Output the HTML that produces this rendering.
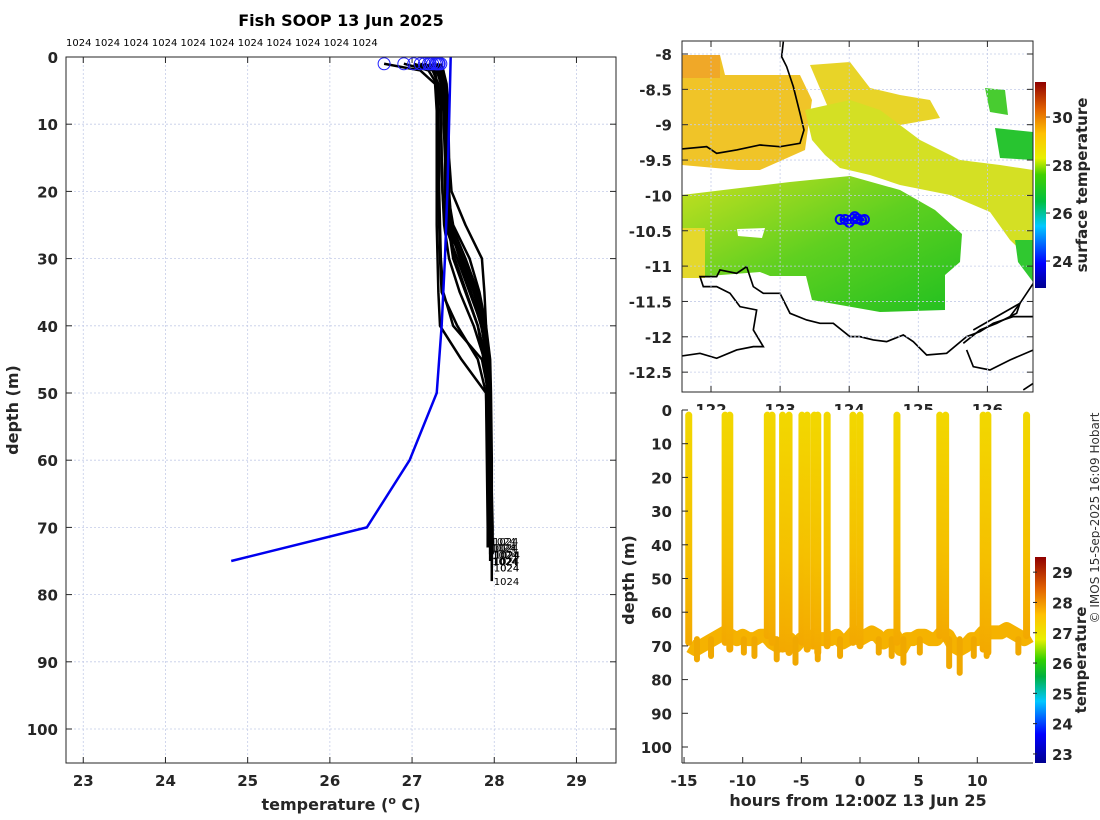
<!DOCTYPE html>
<html><head><meta charset="utf-8"><style>
html,body{margin:0;padding:0;background:#fff}
svg{display:block;font-family:"DejaVu Sans","Liberation Sans",sans-serif}
.tk{font-weight:bold;font-size:15px;fill:#262626}
</style></head><body>
<svg id="fig" width="1100" height="820" viewBox="0 0 1100 820">
<defs>
<linearGradient id="jet" x1="0" y1="1" x2="0" y2="0">
<stop offset="0" stop-color="#00008f"/><stop offset="0.12" stop-color="#0000ff"/><stop offset="0.3" stop-color="#00c8ff"/>
<stop offset="0.42" stop-color="#00c040"/><stop offset="0.55" stop-color="#40d000"/><stop offset="0.63" stop-color="#e8f000"/>
<stop offset="0.75" stop-color="#ffc000"/><stop offset="0.87" stop-color="#e06000"/><stop offset="1" stop-color="#8f0000"/>
</linearGradient>
<linearGradient id="jet2" x1="0" y1="1" x2="0" y2="0">
<stop offset="0" stop-color="#00008f"/><stop offset="0.14" stop-color="#0000ff"/><stop offset="0.3" stop-color="#00c8ff"/>
<stop offset="0.42" stop-color="#00b040"/><stop offset="0.5" stop-color="#30d000"/><stop offset="0.6" stop-color="#e8f000"/>
<stop offset="0.72" stop-color="#ffc000"/><stop offset="0.85" stop-color="#e06000"/><stop offset="1" stop-color="#8f0000"/>
</linearGradient>
<linearGradient id="prof" x1="0" y1="0" x2="0" y2="1">
<stop offset="0" stop-color="#f2d800"/><stop offset="0.6" stop-color="#f5c000"/><stop offset="1" stop-color="#f3a800"/>
</linearGradient>
<linearGradient id="mainfill" x1="0" y1="0" x2="1" y2="1">
<stop offset="0" stop-color="#c8e020"/><stop offset="0.5" stop-color="#60d020"/><stop offset="1" stop-color="#20c020"/>
</linearGradient>
<clipPath id="mapclip"><rect x="682" y="41" width="351" height="351"/></clipPath>
<clipPath id="lclip"><rect x="66" y="57" width="550" height="706"/></clipPath>
</defs>

<text x="341" y="26" text-anchor="middle" font-weight="bold" font-size="16">Fish SOOP 13 Jun 2025</text>
<text x="66" y="46" font-size="10">1024 1024 1024 1024 1024 1024 1024 1024 1024 1024 1024</text>

<g id="left"></g>
<g id="map"></g>
<g id="ts"></g>

<text transform="translate(1099,518) rotate(-90)" text-anchor="middle" font-size="12" fill="#333">© IMOS 15-Sep-2025 16:09 Hobart</text>
</svg>
<script>
// ---------- data: left profile plot ----------
const profileDepths = [1,2,4,8,15,20,25,30,35,40,45,50,60,70];
const prof1 = [26.66,27.10,27.28,27.30,27.30,27.30,27.30,27.31,27.32,27.34,27.60,27.90,27.92,27.93];
const prof2 = [26.90,27.20,27.30,27.32,27.33,27.33,27.34,27.35,27.38,27.50,27.85,27.93,27.93,27.94];
const prof3 = [27.02,27.25,27.32,27.35,27.36,27.37,27.40,27.55,27.70,27.85,27.90,27.93,27.95,27.95];
const prof4 = [27.10,27.30,27.35,27.38,27.40,27.40,27.42,27.60,27.75,27.86,27.93,27.95,27.96,27.96];
const prof5 = [27.15,27.32,27.36,27.40,27.41,27.42,27.45,27.62,27.78,27.88,27.94,27.95,27.96,27.97];
const prof6 = [27.20,27.33,27.38,27.42,27.42,27.43,27.50,27.70,27.82,27.90,27.95,27.96,27.97,27.97];
const prof7 = [27.25,27.35,27.40,27.42,27.43,27.43,27.45,27.58,27.72,27.84,27.92,27.94,27.95,27.96];
const prof8 = [27.28,27.36,27.40,27.43,27.44,27.45,27.48,27.65,27.80,27.88,27.93,27.94,27.95,27.97];
const prof9 = [27.30,27.38,27.42,27.44,27.45,27.48,27.65,27.85,27.88,27.90,27.92,27.94,27.96,27.97];
const prof10 = [27.32,27.36,27.38,27.40,27.41,27.42,27.44,27.50,27.65,27.80,27.90,27.95,27.96,27.98];
const prof11 = [27.33,27.34,27.35,27.35,27.36,27.37,27.39,27.45,27.58,27.75,27.88,27.93,27.95,27.96];
const prof12 = [27.35,27.38,27.40,27.41,27.42,27.43,27.45,27.52,27.66,27.80,27.87,27.92,27.94,27.95];
const prof13 = [27.22,27.28,27.30,27.31,27.32,27.32,27.33,27.34,27.36,27.55,27.80,27.90,27.91,27.92];
const prof14 = [27.30,27.35,27.38,27.40,27.41,27.43,27.46,27.60,27.76,27.88,27.92,27.95,27.96,27.97];
const profiles = [prof1,prof2,prof3,prof4,prof5,prof6,prof7,prof8,prof9,prof10,prof11,prof12,prof13,prof14];
const profEndDepth = [72,73,74,75,74,76,73,75,78,74,72,75,73,76];
const climDepths = [0,10,20,30,40,45,50,60,70,75];
const climTemps = [27.47,27.45,27.43,27.40,27.36,27.33,27.30,26.97,26.45,24.80];
const leftXTicks = [23,24,25,26,27,28,29];
const leftYTicks = [0,10,20,30,40,50,60,70,80,90,100];

// ---------- data: depth-time plot ----------
const bandHours = [-14.5,-14,-13.5,-13,-12.5,-12,-11.5,-11,-10.5,-10,-9.5,-9,-8.5,-8,-7.5,-7,-6.5,-6,-5.5,-5,-4.5,-4,-3.5,-3,-2.5,-2,-1.5,-1,-0.5,0,0.5,1,1.5,2,2.5,3,3.5,4,4.5,5,5.5,6,6.5,7,7.5,8,8.5,9,9.5,10,10.5,11,11.5,12,12.5,13,13.5,14,14.5];
const bandDepths = [70,71,70,69,68,67,66,67,68,67,68,68,67,67,69,70,69,68,70,68,67,69,68,68,68,67,69,68,66,68,67,66,67,69,67,67,71,68,68,67,67,68,68,66,67,70,71,70,68,68,66,66,66,66,65,66,67,68,67];
const spikeHours = [-13.9,-12.7,-9.9,-9,-7.1,-6.4,-5.5,-3.6,-1.7,1.6,2.7,3.7,5.1,7.6,8.5,9.7,10.8,13.5];
const spikeDepths = [74,73,72,73,74,71,75,74,73,72,73,75,72,76,78,73,73,72];
const castHours = [-14.6,-11.5,-11.1,-7.9,-7.5,-6.6,-6.05,-4.95,-4.5,-3.9,-3.6,-2.8,-0.6,0,3.15,6.8,7.3,10.5,10.9,14.2];
const castBottom = [70,70,72,68,70,72,73,70,72,71,73,71,70,71,70,68,69,72,73,68];
const tsXTicks = [-15,-10,-5,0,5,10];
const tsYTicks = [0,10,20,30,40,50,60,70,80,90,100];

// ---------- data: map ----------
const trackLon = [123.87,123.94,124.0,124.05,124.08,124.12,124.18,124.22];
const trackLat = [-10.34,-10.34,-10.38,-10.33,-10.30,-10.33,-10.35,-10.34];
const mapLatTicks = [-8,-8.5,-9,-9.5,-10,-10.5,-11,-11.5,-12,-12.5];
const mapLonTicks = [122,123,124,125,126];
const sstTicks = [24,26,28,30];
const tempTicks = [23,24,25,26,27,28,29];

const NS='http://www.w3.org/2000/svg';
function mk(parent,tag,attrs,text){const e=document.createElementNS(NS,tag);for(const k in attrs)e.setAttribute(k,attrs[k]);if(text!==undefined)e.textContent=text;parent.appendChild(e);return e;}

// ===== LEFT =====
const L=document.getElementById('left');
const lx=t=>66+(t-22.79)*82.2, ly=d=>57+d*6.72;
mk(L,'rect',{x:66,y:57,width:550,height:706,fill:'#fff'});
leftXTicks.forEach(t=>{const g=mk(L,'line',{x1:lx(t),x2:lx(t),y1:57,y2:763,stroke:'#c4cce8','stroke-width':0.8,'stroke-dasharray':'2,2'});
 
 mk(L,'line',{x1:lx(t),x2:lx(t),y1:763,y2:757,stroke:'#262626'});mk(L,'line',{x1:lx(t),x2:lx(t),y1:57,y2:63,stroke:'#262626'});
 const tx=mk(L,'text',{x:lx(t),y:786,'text-anchor':'middle',class:'tk'},String(t));
 });
leftYTicks.forEach(d=>{mk(L,'line',{x1:66,x2:616,y1:ly(d),y2:ly(d),stroke:'#c4cce8','stroke-width':0.8,'stroke-dasharray':'2,2'});
 mk(L,'line',{x1:66,x2:72,y1:ly(d),y2:ly(d),stroke:'#262626'});mk(L,'line',{x1:610,x2:616,y1:ly(d),y2:ly(d),stroke:'#262626'});
 const tx=mk(L,'text',{x:58,y:ly(d)+6,'text-anchor':'end',class:'tk'},String(d));
 });
const LC=mk(L,'g',{'clip-path':'url(#lclip)'});
profiles.forEach((p,i)=>{let pts=p.map((t,j)=>lx(t)+','+ly(profileDepths[j]));
 pts.push(lx(p[p.length-1])+','+ly(profEndDepth[i]));
 const pl=mk(LC,'polyline',{points:pts.join(' '),fill:'none',stroke:'#000','stroke-width':2.5,'stroke-linejoin':'round'});
 });
const cl=mk(LC,'polyline',{points:climTemps.map((t,j)=>lx(t)+','+ly(climDepths[j])).join(' '),fill:'none',stroke:'#0000ee','stroke-width':2.5});

profiles.forEach((p,i)=>{const c=mk(L,'circle',{cx:lx(p[0]),cy:ly(profileDepths[0]),r:6,fill:'none',stroke:'#2020ff','stroke-width':1});
 
 const t=mk(L,'text',{x:lx(p[p.length-1])+2,y:ly(profEndDepth[i])+4,'font-size':10},'1024');
 });
mk(L,'rect',{x:66,y:57,width:550,height:706,fill:'none',stroke:'#262626','stroke-width':1});
let t1=mk(L,'text',{x:341,y:810,'text-anchor':'middle','font-weight':'bold','font-size':16,fill:'#262626'});
t1.innerHTML='temperature (<tspan baseline-shift="super" font-size="11">o</tspan> C)';

t1=mk(L,'text',{transform:'translate(18,410) rotate(-90)','text-anchor':'middle','font-weight':'bold','font-size':16,fill:'#262626'},'depth (m)');


// ===== MAP =====
const M=document.getElementById('map');
const mx=lon=>711+(lon-122)*69.1, my=lat=>54+(-8-lat)*70.7;
mk(M,'rect',{x:682,y:41,width:351,height:351,fill:'#fff'});
const MC=mk(M,'g',{'clip-path':'url(#mapclip)'});
const regions=[
 ['#f0c428','682,55 720,55 725,75 800,75 812,100 805,150 760,170 700,170 682,180'],
 ['#f0a828','682,55 720,55 720,78 682,78'],
 ['#e8d428','810,65 850,62 870,88 900,95 930,100 940,118 900,125 860,115 830,112'],
 ['#d4e024','805,110 850,100 880,110 920,140 960,160 1000,165 1033,170 1033,262 1010,240 990,212 950,195 900,185 870,175 840,168 825,155 812,140'],
 ['url(#mainfill)','682,195 740,188 790,182 850,176 900,190 935,210 962,234 960,262 945,275 945,310 880,312 812,300 806,276 770,276 760,272 682,278'],
 ['#e4d82c','682,228 705,228 705,278 682,278'],
 ['#28c430','995,128 1033,132 1033,160 1000,158'],
 ['#30c830','1015,240 1033,240 1033,282 1018,262'],
 ['#48cc30','985,88 1005,90 1008,115 990,112']];
regions.forEach(r=>{const p=mk(MC,'polygon',{points:r[1],fill:r[0]});});
mk(MC,'polygon',{points:'737,229 765,228 762,238 738,236',fill:'#fff'});
mk(MC,'polygon',{points:'682,165 760,172 700,185 682,185',fill:'#fff'});
const Z=mk(MC,'g',{transform:'translate(620,30) scale(0.3333)'});
const coast=['490,35 485,80 500,110 520,170 540,250 552,300 540,340 480,350 420,345 350,360 290,370 260,350 185,357',
 '185,978 240,970 290,985 350,960 400,950 430,950 400,900 410,840 360,830 330,790 290,770 250,770 240,740 290,740 300,720 350,730 380,710 400,770 430,790 480,790 510,850 560,870 600,880 640,880 690,920 720,920 760,930 800,935 850,915 880,935 920,975 980,970 1040,920 1080,905 1120,880 1180,860 1240,860',
 '1040,960 1060,1010 1110,1020 1170,990 1240,960',
 '1170,860 1200,820 1240,760',
 '1210,1080 1240,1060',
 '1030,940 1080,900 1130,880 1190,850 1200,820 1130,860 1060,900'];
coast.forEach(c=>{const p=mk(Z,'polyline',{points:c,fill:'none',stroke:'#000','stroke-width':5});});
mapLatTicks.forEach(v=>{mk(M,'line',{x1:682,x2:1033,y1:my(v),y2:my(v),stroke:'#c4cce8','stroke-width':0.8,'stroke-dasharray':'2,2'});
 mk(M,'line',{x1:682,x2:688,y1:my(v),y2:my(v),stroke:'#262626'});mk(M,'line',{x1:1027,x2:1033,y1:my(v),y2:my(v),stroke:'#262626'});
 const t=mk(M,'text',{x:672,y:my(v)+6,'text-anchor':'end',class:'tk'},String(v));});
mapLonTicks.forEach(v=>{mk(M,'line',{x1:mx(v),x2:mx(v),y1:41,y2:392,stroke:'#c4cce8','stroke-width':0.8,'stroke-dasharray':'2,2'});
 mk(M,'line',{x1:mx(v),x2:mx(v),y1:386,y2:392,stroke:'#262626'});mk(M,'line',{x1:mx(v),x2:mx(v),y1:41,y2:47,stroke:'#262626'});
 const t=mk(M,'text',{x:mx(v),y:415,'text-anchor':'middle',class:'tk'},String(v));});
const tr=mk(MC,'polyline',{points:trackLon.map((v,i)=>mx(v)+','+my(trackLat[i])).join(' '),fill:'none',stroke:'#0000ff','stroke-width':3});

trackLon.forEach((v,i)=>{const c=mk(MC,'circle',{cx:mx(v),cy:my(trackLat[i]),r:4.5,fill:'none',stroke:'#0000ff','stroke-width':2});});
mk(M,'rect',{x:682,y:41,width:351,height:351,fill:'none',stroke:'#262626'});
const sy=v=>82+(31.46-v)*24;
let cb=mk(M,'rect',{x:1035,y:82,width:11,height:206,fill:'url(#jet)'});
sstTicks.forEach(v=>{mk(M,'line',{x1:1046,x2:1050,y1:sy(v),y2:sy(v),stroke:'#262626'});
 const t=mk(M,'text',{x:1052,y:sy(v)+6,class:'tk','font-size':15},String(v));});
t1=mk(M,'text',{transform:'translate(1087,185) rotate(-90)','text-anchor':'middle','font-weight':'bold','font-size':15,fill:'#262626'},'surface temperature');


// ===== TIME SERIES =====
const T=document.getElementById('ts');
const tx=h=>860+h*11.73, ty=d=>410+d*3.37;
mk(T,'rect',{x:682,y:410,width:351,height:353,fill:'#fff'});
const band=mk(T,'polyline',{points:bandHours.map((h,i)=>tx(h)+','+ty(bandDepths[i])).join(' '),fill:'none',stroke:'#f5b200','stroke-width':14,'stroke-linejoin':'round'});

spikeHours.forEach((h,i)=>{const s=mk(T,'line',{x1:tx(h),x2:tx(h),y1:ty(68),y2:ty(spikeDepths[i]),stroke:'#f0a800','stroke-width':6,'stroke-linecap':'round'});
 });
castHours.forEach((h,i)=>{const c=mk(T,'rect',{x:tx(h)-3.5,y:ty(0.5),width:7,height:ty(castBottom[i])-ty(0.5),rx:3.5,fill:'url(#prof)'});
 });
tsYTicks.forEach(d=>{mk(T,'line',{x1:682,x2:688,y1:ty(d),y2:ty(d),stroke:'#262626'});
 const t=mk(T,'text',{x:672,y:ty(d)+6,'text-anchor':'end',class:'tk'},String(d));});
tsXTicks.forEach(h=>{mk(T,'line',{x1:tx(h),x2:tx(h),y1:763,y2:757,stroke:'#262626'});
 const t=mk(T,'text',{x:tx(h),y:786,'text-anchor':'middle',class:'tk'},String(h));});
mk(T,'line',{x1:682,x2:682,y1:410,y2:763,stroke:'#262626'});
mk(T,'line',{x1:682,x2:1033,y1:763,y2:763,stroke:'#262626'});
t1=mk(T,'text',{x:858,y:806,'text-anchor':'middle','font-weight':'bold','font-size':16,fill:'#262626'},'hours from 12:00Z 13 Jun 25');

t1=mk(T,'text',{transform:'translate(634,580) rotate(-90)','text-anchor':'middle','font-weight':'bold','font-size':16,fill:'#262626'},'depth (m)');

const cy2=v=>557+(29.5-v)*30.3;
cb=mk(T,'rect',{x:1035,y:557,width:11,height:206,fill:'url(#jet2)'});
tempTicks.forEach(v=>{mk(T,'line',{x1:1033,x2:1037,y1:cy2(v),y2:cy2(v),stroke:'#262626'});
 const t=mk(T,'text',{x:1052,y:cy2(v)+6,class:'tk','font-size':15},String(v));});
t1=mk(T,'text',{transform:'translate(1086,660) rotate(-90)','text-anchor':'middle','font-weight':'bold','font-size':15,fill:'#262626'},'temperature');

</script>
</body></html>
